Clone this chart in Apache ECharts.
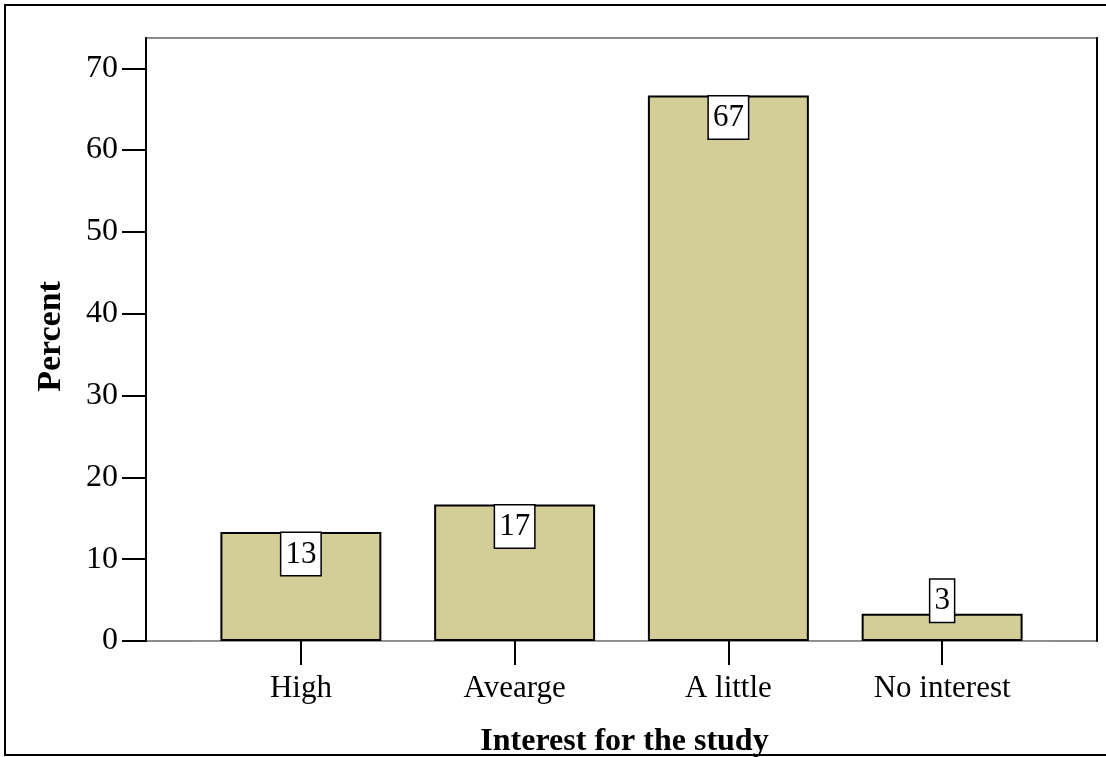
<!DOCTYPE html>
<html>
<head>
<meta charset="utf-8">
<script src="https://cdn.jsdelivr.net/npm/echarts@6/dist/echarts.min.js"></script>
<style>html,body{margin:0;padding:0;background:#fff;}#c{width:1106px;height:757px;}</style>
</head>
<body>
<div id="c"></div>
<script>
var categories = ['High', 'Avearge', 'A little', 'No interest'];
var percentValues = [13.33, 16.67, 66.67, 3.33];
var yTicks = [0, 10, 20, 30, 40, 50, 60, 70];
var yMax = 73.7;
var xTitle = 'Interest for the study';
var yTitle = 'Percent';

var FONT = '"Liberation Serif", "Times New Roman", serif';
var chart = echarts.init(document.getElementById('c'));

var labelBase = {
  show: true,
  position: 'insideTop',
  distance: 1,
  formatter: function (p) { return String(Math.round(p.value)); },
  fontFamily: FONT,
  fontSize: 31,
  color: '#000',
  backgroundColor: '#fff',
  borderColor: '#000',
  borderWidth: 1.5,
  padding: [6, 4, 5, 4]
};

var barData = percentValues.map(function (v, i) {
  if (i === 3) {
    return { value: v, label: { position: 'top', distance: -8 } };
  }
  return v;
});

chart.setOption({
  animation: false,
  backgroundColor: '#fff',
  graphic: [{
    type: 'rect',
    shape: { x: 5, y: 5, width: 1120, height: 750 },
    style: { fill: 'none', stroke: '#000', lineWidth: 2 },
    silent: true,
    z: -10
  }],
  grid: [
    { left: 146, right: 9, top: 38, bottom: 116, outerBoundsMode: 'none', containLabel: false, show: true, borderColor: '#666', borderWidth: 1.5, backgroundColor: 'transparent' },
    { left: 194, right: 57, top: 38, bottom: 116, outerBoundsMode: 'none', containLabel: false }
  ],
  xAxis: [
    { gridIndex: 0, type: 'value', show: false, min: 0, max: 1 },
    {
      gridIndex: 1, type: 'category', data: categories,
      axisLine: { show: true, lineStyle: { color: '#999', width: 1 } },
      axisTick: { show: true, alignWithLabel: true, length: 24, lineStyle: { color: '#000', width: 2 } },
      axisLabel: { margin: 32, fontFamily: FONT, fontSize: 31, color: '#000' },
      name: xTitle, nameLocation: 'middle', nameGap: 85,
      nameTextStyle: { fontFamily: FONT, fontSize: 32, fontWeight: 'bold', color: '#000', padding: [0, 0, 0, 6] }
    }
  ],
  yAxis: [
    {
      gridIndex: 0, type: 'value', min: 0, max: yMax, interval: 10,
      splitLine: { show: false },
      axisLine: { show: true, lineStyle: { color: '#000', width: 2 } },
      axisTick: { show: true, length: 24, customValues: yTicks, lineStyle: { color: '#000', width: 2 } },
      axisLabel: { margin: 28, customValues: yTicks, fontFamily: FONT, fontSize: 32, color: '#000' },
      name: yTitle, nameLocation: 'middle', nameGap: 78, nameRotate: 90,
      nameTextStyle: { fontFamily: FONT, fontSize: 34, fontWeight: 'bold', color: '#000', padding: [0, 0, 0, 6] }
    },
    {
      gridIndex: 0, type: 'value', position: 'right', min: 0, max: yMax,
      splitLine: { show: false },
      axisLine: { show: true, lineStyle: { color: '#000', width: 2 } },
      axisTick: { show: false }, axisLabel: { show: false }
    },
    { gridIndex: 1, type: 'value', min: 0, max: yMax, show: false, splitLine: { show: false } }
  ],
  series: [{
    type: 'bar',
    xAxisIndex: 1,
    yAxisIndex: 2,
    data: barData,
    barWidth: '75.3%',
    itemStyle: { color: '#d3ce98', borderColor: '#000', borderWidth: 2 },
    label: labelBase
  }]
});
</script>
</body>
</html>
